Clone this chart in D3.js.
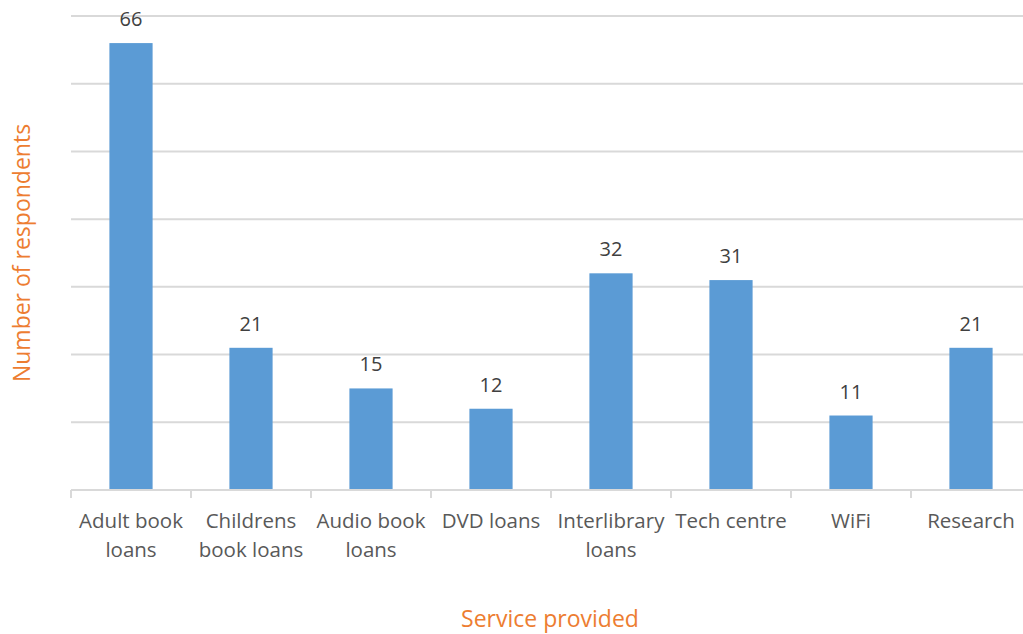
<!DOCTYPE html>
<html>
<head>
<meta charset="utf-8">
<script src="https://cdn.jsdelivr.net/npm/d3@7"></script>
<style>
  html, body { margin: 0; padding: 0; background: #fff; }
  svg { display: block; }
</style>
</head>
<body>
<svg id="chart"></svg>
<script>
// categories (line-broken as in the picture) and counts
const categories = [
  ['Adult book', 'loans'],
  ['Childrens', 'book loans'],
  ['Audio book', 'loans'],
  ['DVD loans'],
  ['Interlibrary', 'loans'],
  ['Tech centre'],
  ['WiFi'],
  ['Research']
];
const values = [66, 21, 15, 12, 32, 31, 11, 21];
const gridTicks = [0, 10, 20, 30, 40, 50, 60, 70];

const W = 1023, H = 634;
const FONT = 'Open Sans, sans-serif';
const margin = { left: 71, right: -8, top: 16, bottom: 144 };

const svg = d3.select('#chart').attr('width', W).attr('height', H);

const x = d3.scaleBand()
  .domain(d3.range(categories.length))
  .range([margin.left, W - margin.right])
  .paddingInner(0.64)
  .paddingOuter(0.32);

const y = d3.scaleLinear()
  .domain([0, 70])
  .range([H - margin.bottom, margin.top]);

// gridlines
svg.append('g')
  .selectAll('line')
  .data(gridTicks.slice(1))
  .enter().append('line')
  .attr('x1', margin.left).attr('x2', W)
  .attr('y1', d => y(d)).attr('y2', d => y(d))
  .attr('stroke', '#d9d9d9')
  .attr('stroke-width', 2);

// bars
svg.append('g')
  .selectAll('rect')
  .data(values)
  .enter().append('rect')
  .attr('x', (d, i) => x(i))
  .attr('y', d => y(d))
  .attr('width', x.bandwidth())
  .attr('height', d => y(0) - y(d))
  .attr('fill', '#5b9bd5');

// x axis line + ticks at band edges
const base = y(0);
svg.append('line')
  .attr('x1', margin.left).attr('x2', W)
  .attr('y1', base).attr('y2', base)
  .attr('stroke', '#d9d9d9').attr('stroke-width', 2);

const step = x.step();
svg.append('g')
  .selectAll('line')
  .data(d3.range(categories.length + 1))
  .enter().append('line')
  .attr('x1', i => margin.left + i * step)
  .attr('x2', i => margin.left + i * step)
  .attr('y1', base).attr('y2', base + 8)
  .attr('stroke', '#d9d9d9').attr('stroke-width', 2);

// value labels
svg.append('g')
  .selectAll('text')
  .data(values)
  .enter().append('text')
  .attr('x', (d, i) => x(i) + x.bandwidth() / 2)
  .attr('y', d => y(d) - 17)
  .attr('text-anchor', 'middle')
  .attr('font-family', FONT)
  .attr('font-size', 20)
  .attr('fill', '#404040')
  .text(d => d);

// category labels
const cat = svg.append('g')
  .selectAll('text')
  .data(categories)
  .enter().append('text')
  .attr('text-anchor', 'middle')
  .attr('font-family', FONT)
  .attr('font-size', 20.5)
  .attr('fill', '#595959');
cat.each(function(lines, i) {
  const cx = x(i) + x.bandwidth() / 2;
  d3.select(this).selectAll('tspan')
    .data(lines)
    .enter().append('tspan')
    .attr('x', cx)
    .attr('y', (d, j) => 528 + j * 29)
    .text(d => d);
});

// axis titles
svg.append('text')
  .attr('x', 550).attr('y', 627)
  .attr('text-anchor', 'middle')
  .attr('font-family', FONT)
  .attr('font-size', 23)
  .attr('fill', '#ed7d31')
  .text('Service provided');

svg.append('text')
  .attr('transform', `translate(30,${(y(0) + y(70)) / 2}) rotate(-90)`)
  .attr('text-anchor', 'middle')
  .attr('font-family', FONT)
  .attr('font-size', 23)
  .attr('fill', '#ed7d31')
  .text('Number of respondents');
</script>
</body>
</html>
